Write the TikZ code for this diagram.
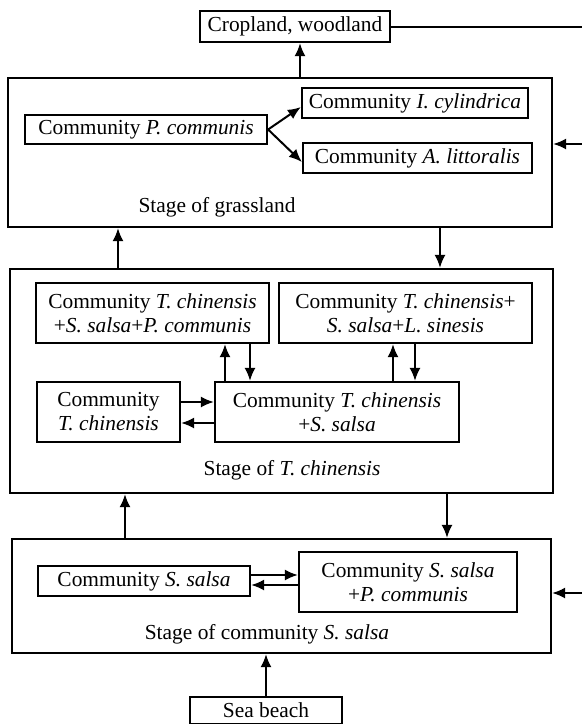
\documentclass[tikz,border=0pt]{standalone}
\usepackage{fontspec}
\setmainfont{Liberation Serif}
\usepackage{tikz}
\usetikzlibrary{arrows.meta,positioning,calc}

\begin{document}
\begin{tikzpicture}[x=0.5pt,y=-0.5pt]
\tikzset{
    %arrow tip
    >={Latex[length=6.5pt,width=5.5pt]},
    %community box
    box/.style={
           rectangle, draw=black, line width=1.1pt,
           inner sep=1pt, align=center,
           font=\fontsize{10.7}{12}\selectfont},
    %stage frame
    stage/.style={
           rectangle, draw=black, line width=1.1pt, inner sep=0pt},
    label/.style={font=\fontsize{10.7}{12}\selectfont},
    flow/.style={->, line width=1pt}
}
\useasboundingbox (0,0) rectangle (582,724);

%Stages
\node[stage, minimum width=272pt,   minimum height=74.5pt] (grass)  at (280,152.5) {};
\node[stage, minimum width=271.5pt, minimum height=112pt]  (tstage) at (281.5,381) {};
\node[stage, minimum width=269.5pt, minimum height=57pt]   (sstage) at (281.5,596) {};

\node[label] (grasslab) at (217,207) {Stage of grassland};
\node[label] (tlab)     at (292,470) {Stage of \textit{T. chinensis}};
\node[label] (slab)     at (267,634) {Stage of community \textit{S. salsa}};

%Boxes
\node[box, minimum width=95pt,  minimum height=15.5pt] (crop) at (295,26.5) {Cropland, woodland};
\node[box, minimum width=121pt, minimum height=14.5pt] (pcom) at (146,129.5) {Community \textit{P. communis}};
\node[box, minimum width=113pt, minimum height=15pt] (icyl) at (415,103) {Community \textit{I. cylindrica}};
\node[box, minimum width=114.5pt, minimum height=15pt] (alit) at (417.5,158) {Community \textit{A. littoralis}};

\node[box, minimum width=116.5pt, minimum height=30pt] (tsp)  at (152.5,313) {Community \textit{T. chinensis}\\+\textit{S. salsa}+\textit{P. communis}};
\node[box, minimum width=126.5pt, minimum height=30pt] (tsl)  at (405.5,313) {Community \textit{T. chinensis}+\\\textit{S. salsa}+\textit{L. sinesis}};
\node[box, minimum width=71.5pt,  minimum height=30pt] (tch)  at (108.5,412) {Community\\\textit{T. chinensis}};
\node[box, minimum width=122pt,   minimum height=30pt] (tss)  at (337,412) {Community \textit{T. chinensis}\\+\textit{S. salsa}};

\node[box, minimum width=106pt, minimum height=15pt] (ssal) at (144,581) {Community \textit{S. salsa}};
\node[box, minimum width=109pt, minimum height=30pt] (sspc) at (408,582) {Community \textit{S. salsa}\\+\textit{P. communis}};
\node[box, minimum width=76pt, minimum height=13.5pt] (sea) at (266,710.5) {Sea beach};

%right side
\coordinate (redge) at (582,0);
\coordinate (in1) at (582,144);
\coordinate (in2) at (582,593);

%Arrows
\draw[line width=1pt] (crop.east) -- (crop.east -| redge);
\draw[flow] (in1) -- (in1 -| grass.east);
\draw[flow] (in2) -- (in2 -| sstage.east);
\draw[flow] (grass.north -| 300,0) -- (crop.south -| 300,0);
\draw[flow] (pcom.east) -- ([yshift=-2pt]icyl.west);
\draw[flow] (pcom.east) -- ([yshift=-2pt]alit.west);
\draw[flow] (tstage.north -| 118,0) -- (grass.south -| 118,0);
\draw[flow] (grass.south -| 440,0) -- (tstage.north -| 440,0);
\draw[flow] (tss.north -| 225,0) -- (tsp.south -| 225,0);
\draw[flow] (tsp.south -| 250,0) -- (tss.north -| 250,0);
\draw[flow] (tss.north -| 393,0) -- (tsl.south -| 393,0);
\draw[flow] (tsl.south -| 415,0) -- (tss.north -| 415,0);
\draw[flow] ([yshift=5pt]tch.east) -- ([yshift=5pt]tch.east -| tss.west);
\draw[flow] ([yshift=-5.5pt]tss.west) -- ([yshift=-5.5pt]tss.west -| tch.east);
\draw[flow] (sstage.north -| 125,0) -- (tstage.south -| 125,0);
\draw[flow] (tstage.south -| 447,0) -- (sstage.north -| 447,0);
\draw[flow] ([yshift=3pt]ssal.east) -- ([yshift=3pt]ssal.east -| sspc.west);
\draw[flow] ([yshift=-2pt]ssal.east -| sspc.west) -- ([yshift=-2pt]ssal.east);
\draw[flow] (sea.north) -- (sstage.south -| sea.north);
\end{tikzpicture}
\end{document}
